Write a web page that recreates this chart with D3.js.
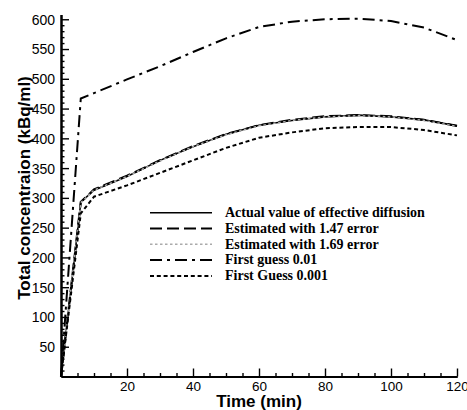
<!DOCTYPE html>
<html><head><meta charset="utf-8">
<script src="https://cdn.jsdelivr.net/npm/d3@7"></script>
<style>body{margin:0;background:#fff}svg{display:block}</style>
</head><body>
<svg id="c" width="467" height="410"></svg>
<script>
const times = [0, 6, 10, 20, 30, 40, 50, 60, 70, 80, 90, 100, 110, 120];
const actual = [0, 293, 313, 336, 363, 386, 407, 422, 430, 436, 439, 436, 431, 421];
const est147 = [0, 293, 314, 337, 363, 387, 407, 422, 431, 437, 439, 437, 431, 421];
const est169 = [0, 292, 313, 336, 362, 386, 406, 421, 430, 436, 438, 436, 430, 420];
const guess001 = [0, 467, 476, 499, 521, 545, 568, 587, 596, 600, 601, 597, 586, 565];
const guess0001 = [0, 274, 302, 321, 342, 363, 384, 401, 410, 417, 419, 419, 414, 405];
const seriesNames = ["Actual value of effective diffusion", "Estimated with 1.47 error", "Estimated with 1.69 error", "First guess 0.01", "First Guess 0.001"];
const xMajor = [20, 40, 60, 80, 100, 120];
const yMajor = [50, 100, 150, 200, 250, 300, 350, 400, 450, 500, 550, 600];

const svg = d3.select("#c");
const x = d3.scaleLinear().domain([0, 120]).range([61, 457]);
const y = d3.scaleLinear().domain([0, 608]).range([376.5, 14.5]);

const styles = [
  {stroke: "#000", width: 1.6, dash: null},
  {stroke: "#000", width: 2.2, dash: "12,5"},
  {stroke: "#aaa", width: 1.5, dash: "2.5,2.5"},
  {stroke: "#000", width: 2, dash: "12,5,3,5"},
  {stroke: "#000", width: 2, dash: "4,2.8"}
];
const data = [actual, est147, est169, guess001, guess0001];

const line = d3.line().x((d, i) => x(times[i])).y(d => y(d));
data.forEach((s, k) => {
  svg.append("path").datum(s).attr("d", line).attr("fill", "none")
    .attr("stroke", styles[k].stroke).attr("stroke-width", styles[k].width)
    .attr("stroke-dasharray", styles[k].dash);
});

// axes
const xMinor = d3.range(5, 120, 5).filter(v => v % 20 !== 0);
const yMinor = d3.range(10, 608, 10).filter(v => v % 50 !== 0);
const gx = svg.append("g").attr("transform", "translate(0,376.5)");
gx.call(d3.axisBottom(x).tickValues(xMinor).tickFormat("").tickSizeInner(-3.5).tickSizeOuter(0));
gx.append("g").call(d3.axisBottom(x).tickValues(xMajor).tickSizeInner(-8).tickSizeOuter(0).tickPadding(5));
const gy = svg.append("g").attr("transform", "translate(61,0)");
gy.call(d3.axisLeft(y).tickValues(yMinor).tickFormat("").tickSizeInner(-3.5).tickSizeOuter(0));
gy.append("g").call(d3.axisLeft(y).tickValues(yMajor).tickSizeInner(-8).tickSizeOuter(0).tickPadding(6));
svg.selectAll(".domain").attr("stroke-width", 2);
svg.selectAll(".tick line").attr("stroke-width", 1.4);
svg.selectAll(".tick text").attr("font-family", "Liberation Sans, Arial, sans-serif").attr("font-size", 14).attr("fill", "#000");
gx.selectAll(".tick text").attr("font-size", 13.5);
gy.selectAll(".tick text").attr("dy", "0.35em");

svg.append("text").attr("x", 259).attr("y", 407).attr("text-anchor", "middle")
  .attr("font-family", "Liberation Sans, Arial, sans-serif").attr("font-weight", "bold").attr("font-size", 17)
  .text("Time (min)");
svg.append("text").attr("transform", "translate(29.5,188) rotate(-90)").attr("text-anchor", "middle")
  .attr("font-family", "Liberation Sans, Arial, sans-serif").attr("font-weight", "bold").attr("font-size", 17)
  .text("Total concentraion (kBq/ml)");

// legend
const lg = svg.append("g");
seriesNames.forEach((name, k) => {
  const yy = 212.7 + k * 15.8;
  lg.append("line").attr("x1", 150).attr("x2", 212).attr("y1", yy).attr("y2", yy)
    .attr("stroke", styles[k].stroke).attr("stroke-width", styles[k].width)
    .attr("stroke-dasharray", styles[k].dash);
  lg.append("text").attr("x", 225).attr("y", yy + 4.3)
    .attr("font-family", "Liberation Serif, Times New Roman, serif").attr("font-weight", "bold").attr("font-size", 14)
    .text(name);
});
</script>
</body></html>
